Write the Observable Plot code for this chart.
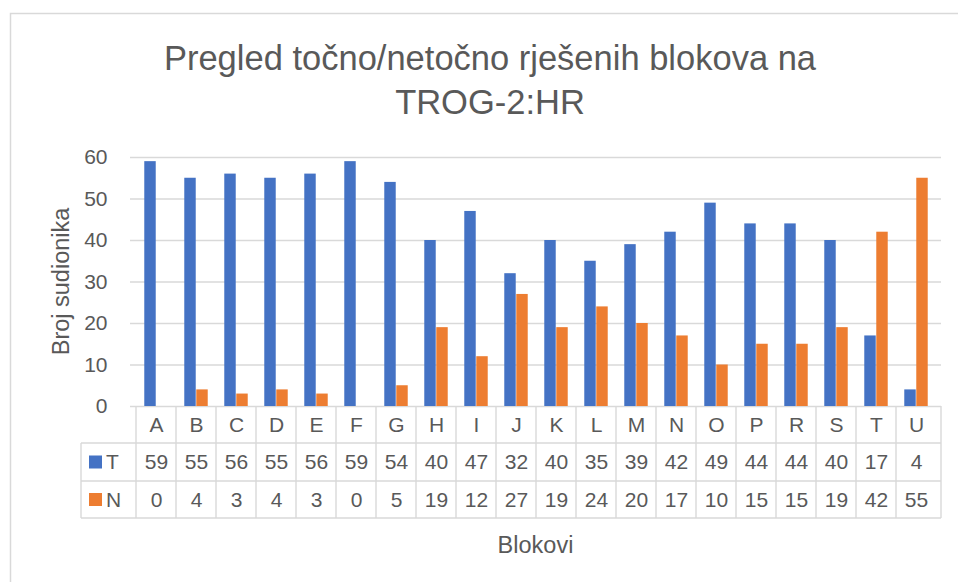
<!DOCTYPE html>
<html>
<head>
<meta charset="utf-8">
<script src="https://cdn.jsdelivr.net/npm/d3@7"></script>
<script src="https://cdn.jsdelivr.net/npm/@observablehq/plot@0.6"></script>
<style>
  html, body { margin: 0; padding: 0; background: #fff; }
  #chart svg { display: block; }
</style>
</head>
<body>
<div id="chart"></div>
<script>
// ---- data ----
const categories = ["A","B","C","D","E","F","G","H","I","J","K","L","M","N","O","P","R","S","T","U"];
const seriesNames = ["T", "N"];
const valuesT = [59,55,56,55,56,59,54,40,47,32,40,35,39,42,49,44,44,40,17,4];
const valuesN = [0,4,3,4,3,0,5,19,12,27,19,24,20,17,10,15,15,19,42,55];
const yTicks = [0,10,20,30,40,50,60];
const titleLines = ["Pregled točno/netočno rješenih blokova na", "TROG-2:HR"];
const yLabel = "Broj sudionika";
const xLabel = "Blokovi";

const colors = {T: "#4472c4", N: "#ed7d31"};
const textColor = "#595959";
const lineColor = "#d9d9d9";
const font = "'Liberation Sans', Arial, sans-serif";
const numSize = 21;
const labelSize = 23.5;
const titleSize = 34.5;

const rowsT = categories.map((c, i) => ({cat: c, series: "T", value: valuesT[i]}));
const rowsN = categories.map((c, i) => ({cat: c, series: "N", value: valuesN[i]}));

const W = 958, H = 582;
const mL = 130, mR = 17, mT = 157, mB = 176;
const bw = (W - mL - mR) / categories.length;
const barW = 12;

const cellText = {frameAnchor: "bottom", lineAnchor: "middle", textAnchor: "middle", fill: textColor, fontSize: numSize};

const plot = Plot.plot({
  width: W, height: H,
  marginLeft: mL, marginRight: mR, marginTop: mT, marginBottom: mB,
  style: {fontFamily: font, fontSize: numSize + "px", color: textColor, background: "white", overflow: "visible"},
  x: {type: "band", domain: categories, padding: 0, axis: null},
  y: {domain: [0, 60], ticks: yTicks, tickSize: 0, tickPadding: 23, label: null, tickFormat: d => d},
  marks: [
    Plot.ruleY(yTicks, {stroke: lineColor, strokeWidth: 1.4}),
    Plot.barY(rowsT, {x: "cat", y: "value", fill: colors.T, insetLeft: bw / 2 - barW, insetRight: bw / 2}),
    Plot.barY(rowsN, {x: "cat", y: "value", fill: colors.N, insetLeft: bw / 2, insetRight: bw / 2 - barW}),
    Plot.text(categories, {x: d => d, text: d => d, dy: 18.5, ...cellText}),
    Plot.text(rowsT, {x: "cat", text: d => String(d.value), dy: 56, ...cellText}),
    Plot.text(rowsN, {x: "cat", text: d => String(d.value), dy: 93.5, ...cellText})
  ]
});

document.getElementById("chart").appendChild(plot);

// ---- decorations using the plot's scales ----
const svg = d3.select(plot);
const xs = plot.scale("x");
const tableTop = H - mB;           // 406
const rowY = [tableTop, 443, 481, 518];
const leftCol = 81;
const rightEdge = W - mR;

const g = svg.append("g").attr("stroke", lineColor).attr("stroke-width", 1.4).attr("fill", "none");
[rowY[1], rowY[2], rowY[3]].forEach(y => {
  g.append("line").attr("x1", leftCol).attr("x2", rightEdge).attr("y1", y).attr("y2", y);
});
categories.forEach(c => {
  const x0 = xs.apply(c);
  g.append("line").attr("x1", x0).attr("x2", x0).attr("y1", tableTop).attr("y2", rowY[3]);
});
g.append("line").attr("x1", rightEdge).attr("x2", rightEdge).attr("y1", tableTop).attr("y2", rowY[3]);
g.append("line").attr("x1", leftCol).attr("x2", leftCol).attr("y1", rowY[1]).attr("y2", rowY[3]);

// legend keys in table
seriesNames.forEach((s, i) => {
  const cy = (rowY[i + 1] + rowY[i + 2]) / 2;
  svg.append("rect").attr("x", 89).attr("y", cy - 6.5).attr("width", 13).attr("height", 13).attr("fill", colors[s]);
  svg.append("text").attr("x", 106).attr("y", cy).attr("dy", "0.35em").attr("text-anchor", "start")
    .attr("fill", textColor).attr("font-size", numSize).attr("font-family", font).text(s);
});

// title
titleLines.forEach((t, i) => {
  svg.append("text").attr("x", 490).attr("y", 58 + i * 44).attr("dy", "0.35em")
    .attr("text-anchor", "middle").attr("fill", textColor).attr("font-size", titleSize)
    .attr("font-family", font).text(t);
});

// axis labels
svg.append("text").attr("transform", `translate(61,${(mT + tableTop) / 2}) rotate(-90)`)
  .attr("text-anchor", "middle").attr("dy", "0.35em").attr("fill", textColor)
  .attr("font-size", labelSize).attr("font-family", font).text(yLabel);
svg.append("text").attr("x", (mL + rightEdge) / 2).attr("y", 545).attr("dy", "0.35em")
  .attr("text-anchor", "middle").attr("fill", textColor)
  .attr("font-size", labelSize).attr("font-family", font).text(xLabel);

// outer chart border
svg.append("path").attr("d", `M10.5,${H} V13.5 H${W}`).attr("fill", "none")
  .attr("stroke", lineColor).attr("stroke-width", 1.5);
</script>
</body>
</html>
